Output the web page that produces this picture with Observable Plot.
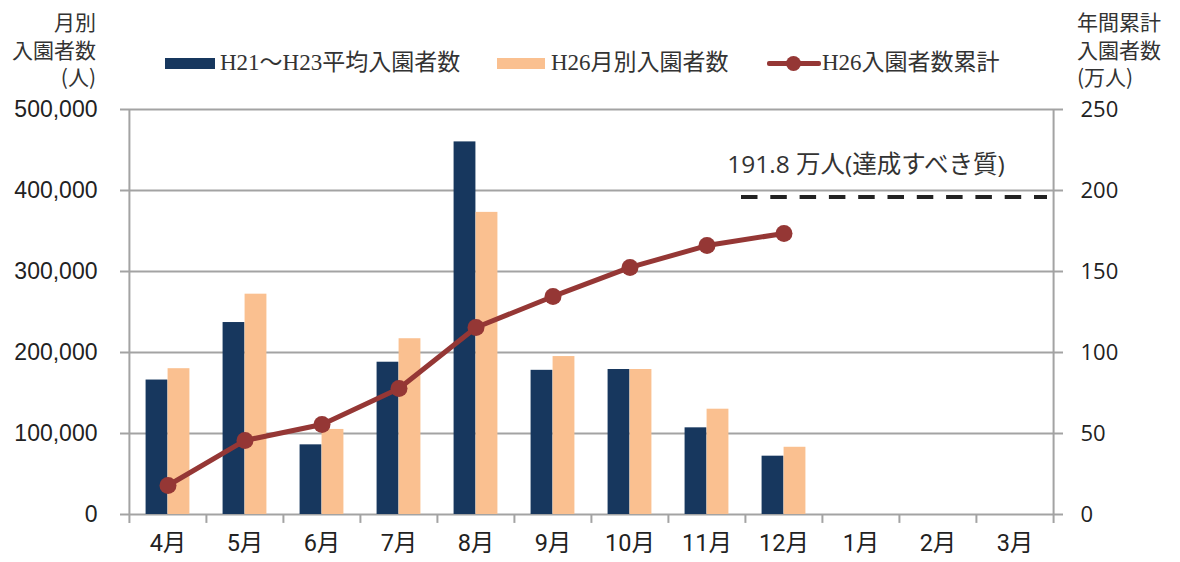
<!DOCTYPE html>
<html>
<head>
<meta charset="utf-8">
<script src="https://cdn.jsdelivr.net/npm/d3@7"></script>
<script src="https://cdn.jsdelivr.net/npm/@observablehq/plot@0.6"></script>
<style>
  html, body { margin: 0; padding: 0; background: #fff; }
  #wrap { position: relative; width: 1180px; height: 562px; overflow: hidden; font-family: "Noto Sans CJK JP", sans-serif; color: #222; }
  #chart { position: absolute; left: 0; top: 0; }
  .ttl { position: absolute; font-size: 21px; line-height: 27.5px; white-space: nowrap; color: #333; }
  .lg { position: absolute; white-space: nowrap; font-family: "Liberation Serif", "Noto Sans CJK JP", serif; font-size: 23px; color: #333; line-height: 26px; }
  .sw { position: absolute; }
</style>
</head>
<body>
<div id="wrap">
  <div id="chart"></div>
  <div class="ttl" id="ltitle" style="right:1084px; top:8px; text-align:right;"></div>
  <div class="ttl" id="rtitle" style="left:1077px; top:8px; text-align:left;"></div>
  <div id="legend"></div>
</div>
<script>
// ---- data ----
const months = ["4月","5月","6月","7月","8月","9月","10月","11月","12月","1月","2月","3月"];
const avgH21H23 = [166000, 237000, 86000, 188000, 460000, 178000, 179000, 107000, 72000, null, null, null];
const h26Monthly = [180000, 272000, 105000, 217000, 373000, 195000, 179000, 130000, 83000, null, null, null];
const h26Cumulative = [17.9, 45.7, 55.6, 77.8, 115.4, 134.6, 152.5, 166.0, 173.5, null, null, null]; // 万人
const seriesNames = ["H21～H23平均入園者数", "H26月別入園者数", "H26入園者数累計"];
const targetLabel = "191.8 万人(達成すべき質)";
const targetDrawn = 196;               // 万人, where the dashed line sits in the picture
const targetRange = ["12月", "3月"];
const leftTicks = [0, 100000, 200000, 300000, 400000, 500000];
const rightTicks = [0, 50, 100, 150, 200, 250];
const leftTitle = ["月別", "入園者数", "(人)"];
const rightTitle = ["年間累計", "入園者数", "(万人)"];

// ---- styles ----
const NAVY = "#17375E", PEACH = "#FAC090", RED = "#953735", GRID = "#A3A3A3";
const W = 1180, H = 562, ML = 128, MR = 126, MT = 109, MB = 48;
const step = (W - ML - MR) / months.length;
const barW = 22;
const sidePad = (step - 2 * barW) / 2;
const RATIO = 500000 / 250; // right axis (万人) -> left axis (人)

const bars1 = months.map((m, i) => ({month: m, v: avgH21H23[i]})).filter(d => d.v != null);
const bars2 = months.map((m, i) => ({month: m, v: h26Monthly[i]})).filter(d => d.v != null);
const cum = months.map((m, i) => ({month: m, v: h26Cumulative[i]})).filter(d => d.v != null);

const chart = Plot.plot({
  width: W, height: H,
  marginLeft: ML, marginRight: MR, marginTop: MT, marginBottom: MB,
  style: {fontFamily: "'Noto Sans CJK JP', sans-serif", color: "#222", background: "transparent"},
  x: {type: "band", domain: months, padding: 0},
  y: {domain: [0, 500000]},
  marks: [
    Plot.ruleY(leftTicks, {stroke: GRID, strokeWidth: 2, insetLeft: -8, insetRight: -9}),
    Plot.barY(bars1, {x: "month", y: "v", fill: NAVY, insetLeft: sidePad, insetRight: sidePad + barW}),
    Plot.barY(bars2, {x: "month", y: "v", fill: PEACH, insetLeft: sidePad + barW, insetRight: sidePad}),
    // axis verticals and category-boundary ticks
    Plot.ruleX([months[0]], {x: d => d, y1: -11000, y2: 500000, dx: -step / 2, stroke: GRID, strokeWidth: 2}),
    Plot.ruleX([months[months.length - 1]], {x: d => d, y1: -11000, y2: 500000, dx: step / 2, stroke: GRID, strokeWidth: 2}),
    Plot.ruleX(months.slice(1), {x: d => d, y1: -11000, y2: 0, dx: -step / 2, stroke: GRID, strokeWidth: 2}),
    // target dashed line
    Plot.ruleY([targetDrawn * RATIO], {y: d => d, x1: () => targetRange[0], x2: () => targetRange[1],
      stroke: "#222", strokeWidth: 4, strokeDasharray: "16.5,12.8", insetLeft: -4, insetRight: 6}),
    Plot.text([targetLabel], {x: () => "1月", y: () => targetDrawn * RATIO, text: d => d, dx: 5, dy: -32,
      fontSize: 24.5, fontFamily: "'Open Sans', 'Noto Sans CJK JP', sans-serif", fill: "#333"}),
    // cumulative line
    Plot.line(cum, {x: "month", y: d => d.v * RATIO, stroke: RED, strokeWidth: 5}),
    Plot.dot(cum, {x: "month", y: d => d.v * RATIO, r: 8.5, fill: RED}),
    // axes
    Plot.axisY(leftTicks, {anchor: "left", tickSize: 0, tickPadding: 31, label: null,
      tickFormat: d3.format(","), fontSize: 23, fontFamily: "'Liberation Sans', Arial, sans-serif", fill: "#222"}),
    Plot.axisY(rightTicks.map(v => v * RATIO), {anchor: "right", tickSize: 0, tickPadding: 26, label: null,
      tickFormat: d => d / RATIO, fontSize: 22, fontFamily: "'Open Sans', sans-serif", fill: "#222"}),
    Plot.axisX({anchor: "bottom", tickSize: 0, tickPadding: 20, label: null, fontSize: 23.5,
      fontFamily: "Roboto, 'Noto Sans CJK JP', sans-serif", fill: "#222"})
  ]
});
document.getElementById("chart").appendChild(chart);

// titles
document.getElementById("ltitle").innerHTML = leftTitle.join("<br>");
document.getElementById("rtitle").innerHTML = rightTitle.join("<br>");

// legend
const lg = document.getElementById("legend");
function add(html) { lg.insertAdjacentHTML("beforeend", html); }
add(`<div class="sw" style="left:165px;top:58px;width:50px;height:11px;background:${NAVY}"></div>`);
add(`<div class="lg" style="left:220px;top:50px;">${seriesNames[0]}</div>`);
add(`<div class="sw" style="left:497px;top:58px;width:48px;height:11px;background:${PEACH}"></div>`);
add(`<div class="lg" style="left:551px;top:50px;">${seriesNames[1]}</div>`);
add(`<div class="sw" style="left:767px;top:61px;width:54px;height:5px;background:${RED};border-radius:2px"></div>`);
add(`<div class="sw" style="left:786px;top:56px;width:15px;height:15px;border-radius:50%;background:${RED}"></div>`);
add(`<div class="lg" style="left:822px;top:50px;">${seriesNames[2]}</div>`);
</script>
</body>
</html>
